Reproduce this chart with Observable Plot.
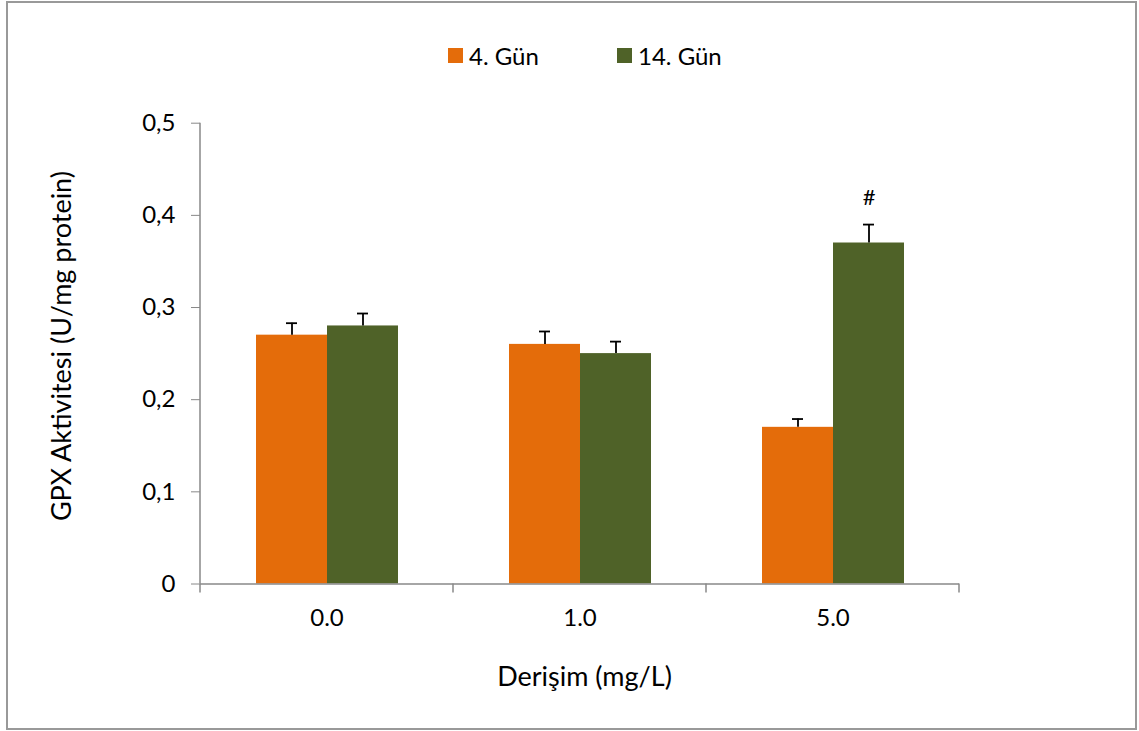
<!DOCTYPE html>
<html>
<head>
<meta charset="utf-8">
<script src="https://cdn.jsdelivr.net/npm/d3@7"></script>
<script src="https://cdn.jsdelivr.net/npm/@observablehq/plot@0.6"></script>
<style>
  html, body { margin: 0; padding: 0; background: #fff; }
  #wrap { position: relative; width: 1139px; height: 731px; font-family: Lato, "Noto Sans", sans-serif; }
  #border { position: absolute; left: 6px; top: 1px; width: 1127px; height: 725px; border: 2px solid #999; box-sizing: content-box; pointer-events: none; }
  #legend { position: absolute; top: 0; left: 0; width: 1139px; height: 100px; font-size: 24px; color: #000; }
  .item { position: absolute; display: flex; align-items: center; top: 40px; height: 30px; }
  .sw { width: 15px; height: 15px; margin-right: 6px; }
  svg { position: absolute; left: 0; top: 0; }
</style>
</head>
<body>
<div id="wrap">
  <div id="chart"></div>
  <div id="legend"></div>
  <div id="border"></div>
</div>
<script>
const categories = ["0.0", "1.0", "5.0"];
const seriesNames = ["4. Gün", "14. Gün"];
const seriesColors = ["#E46C0A", "#4F6228"];
const gun4 = [0.27, 0.26, 0.17];
const gun4Err = [0.013, 0.014, 0.009];
const gun14 = [0.28, 0.25, 0.37];
const gun14Err = [0.0135, 0.013, 0.02];
const yTicks = [0, 0.1, 0.2, 0.3, 0.4, 0.5];
const xTitle = "Derişim (mg/L)";
const yTitle = "GPX Aktivitesi (U/mg protein)";
const marks = [{cat: "5.0", series: "14. Gün", label: "#"}];

const rows = [];
categories.forEach((c, i) => {
  rows.push({cat: c, series: seriesNames[0], value: gun4[i], err: gun4Err[i]});
  rows.push({cat: c, series: seriesNames[1], value: gun14[i], err: gun14Err[i]});
});
const markRows = marks.map(m => {
  const r = rows.find(d => d.cat === m.cat && d.series === m.series);
  return {...m, top: r.value + r.err};
});

const FONT = "Lato, 'Noto Sans', sans-serif";
const W = 1139, H = 731;
const chart = Plot.plot({
  width: W, height: H,
  marginLeft: 199, marginRight: 179, marginTop: 122.7, marginBottom: 147.5,
  style: {fontFamily: FONT, fontSize: "24px", color: "#000", background: "transparent"},
  fx: {domain: categories, padding: 0},
  x: {domain: seriesNames, paddingInner: 0, paddingOuter: 0.762, axis: null},
  y: {domain: [0, 0.5]},
  color: {domain: seriesNames, range: seriesColors},
  marks: [
    Plot.axisFx({anchor: "bottom", tickSize: 0, tickPadding: 25, fontSize: 24, label: null}),
    Plot.axisY({ticks: yTicks, tickSize: 9, tickPadding: 16, stroke: "#888", fill: "#000", fontSize: 24,
      tickFormat: d => d === 0 ? "0" : d3.format(".1f")(d).replace(".", ","), label: null}),
    Plot.barY(rows, {fx: "cat", x: "series", y: "value", fill: "series"}),
    Plot.ruleY([0], {stroke: "#888", strokeWidth: 1.5}),
    Plot.ruleX(rows, {fx: "cat", x: "series", y1: "value", y2: d => d.value + d.err, stroke: "#000", strokeWidth: 1.8}),
    Plot.tickY(rows, {fx: "cat", x: "series", y: d => d.value + d.err, stroke: "#000", strokeWidth: 1.8, insetLeft: 30, insetRight: 30}),
    Plot.text(markRows, {fx: "cat", x: "series", y: "top", text: "label", dy: -27, fontSize: 22, fill: "#000"})
  ]
});
document.getElementById("chart").appendChild(chart);

// y axis line and x-axis boundary ticks, positioned with the plot's own scales
const svg = d3.select(chart);
const ys = chart.scale("y");
const fxs = chart.scale("fx");
const y0 = ys.apply(0), y1 = ys.apply(0.5);
const left = fxs.apply(categories[0]);
const right = fxs.apply(categories[categories.length - 1]) + fxs.bandwidth;
svg.append("line").attr("x1", left).attr("x2", left).attr("y1", y0).attr("y2", y1)
  .attr("stroke", "#888").attr("stroke-width", 1.5);
const bounds = categories.map(c => fxs.apply(c)).concat([right]);
bounds.forEach(b => {
  svg.append("line").attr("x1", b).attr("x2", b).attr("y1", y0).attr("y2", y0 + 9)
    .attr("stroke", "#888").attr("stroke-width", 1.5);
});

// axis titles
svg.append("text").text(xTitle)
  .attr("x", (left + right) / 2 + 5).attr("y", y0 + 93).attr("dy", "0.35em")
  .attr("text-anchor", "middle").attr("font-family", FONT).attr("font-size", 27).attr("fill", "#000");
svg.append("text").text(yTitle)
  .attr("transform", `translate(62,${(y0 + y1) / 2 - 7}) rotate(-90)`).attr("dy", "0.35em")
  .attr("text-anchor", "middle").attr("font-family", FONT).attr("font-size", 27).attr("fill", "#000");

// legend
const leg = d3.select("#legend");
const legLeft = [448, 617];
seriesNames.forEach((s, i) => {
  const it = leg.append("div").attr("class", "item").style("left", legLeft[i] + "px");
  it.append("div").attr("class", "sw").style("background", seriesColors[i]);
  it.append("span").text(s);
});
</script>
</body>
</html>
